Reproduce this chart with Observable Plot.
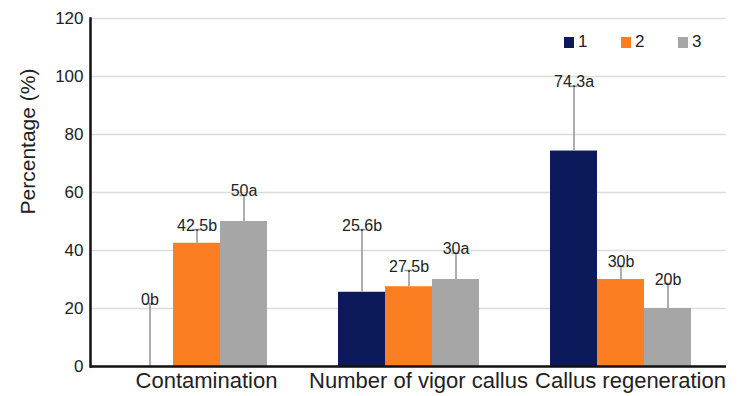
<!DOCTYPE html>
<html>
<head>
<meta charset="utf-8">
<script src="https://cdn.jsdelivr.net/npm/d3@7"></script>
<script src="https://cdn.jsdelivr.net/npm/@observablehq/plot@0.6"></script>
<style>
  body { margin: 0; background: #fff; font-family: "Liberation Sans", Arial, sans-serif; }
  #wrap { position: relative; width: 741px; height: 396px; }
  #legend { position: absolute; top: 32px; left: 564px; display: flex; font-size: 17px; color: #222; }
  #legend .item { display: flex; align-items: center; width: 57px; }
  #legend .sw { width: 10px; height: 11px; margin-right: 4px; }
</style>
</head>
<body>
<div id="wrap"><div id="legend"></div></div>
<script>
const categories = ["Contamination", "Number of vigor callus", "Callus regeneration"];
const treatments = ["1", "2", "3"];
const values = [[0, 42.5, 50], [25.6, 27.5, 30], [74.3, 30, 20]];
const errors = [[21.7, 4.7, 9], [21.6, 5.6, 9], [22.3, 4.5, 8.6]];
const labels = [["0b", "42.5b", "50a"], ["25.6b", "27.5b", "30a"], ["74.3a", "30b", "20b"]];
const colors = ["#0c1a5c", "#fb7f21", "#a6a6a6"];
const yTicks = [0, 20, 40, 60, 80, 100, 120];

const data = [];
categories.forEach((c, i) => treatments.forEach((t, j) => {
  data.push({cat: c, t, v: values[i][j], e: errors[i][j], lab: labels[i][j]});
}));
const errTop = d => d.v + d.e;

const chart = Plot.plot({
  width: 741,
  height: 396,
  marginLeft: 90,
  marginRight: 15,
  marginTop: 18,
  marginBottom: 30,
  style: {fontFamily: '"Liberation Sans", Arial, sans-serif', color: "#222", background: "#fff"},
  fx: {domain: categories, padding: 0, label: null},
  x: {domain: treatments, paddingInner: 0, paddingOuter: 0.755, axis: null},
  y: {domain: [0, 120], ticks: yTicks, label: null},
  color: {domain: treatments, range: colors},
  marks: [
    Plot.gridY(yTicks, {stroke: "#dcdcdc", strokeOpacity: 1, strokeWidth: 1.5}),
    Plot.axisY(yTicks, {tickSize: 0, tickPadding: 7, fontSize: 17, label: null}),
    Plot.axisFx({anchor: "bottom", tickSize: 0, tickPadding: 6, fontSize: 22, dx: 10, label: null}),
    Plot.barY(data, {fx: "cat", x: "t", y: "v", fill: "t"}),
    Plot.ruleX(data, {fx: "cat", x: "t", y1: "v", y2: errTop, stroke: "#9a9a9a", strokeWidth: 1.6}),
    Plot.tickY(data, {fx: "cat", x: "t", y: errTop, stroke: "#9a9a9a", strokeWidth: 1.6, insetLeft: 19.5, insetRight: 19.5}),
    Plot.text(data, {fx: "cat", x: "t", y: errTop, text: "lab", lineAnchor: "bottom", dy: 1, fontSize: 16, fill: "#222"}),
    Plot.ruleY([0], {stroke: "#111", strokeWidth: 2.5}),
    Plot.frame({anchor: "left", stroke: "#111", strokeWidth: 2.5, facet: "super"}),
    Plot.text(["Percentage (%)"], {frameAnchor: "left", textAnchor: "middle", rotate: -90, dx: -62, dy: -51, fontSize: 21, fill: "#222", facet: "super"})
  ]
});
document.getElementById("wrap").prepend(chart);

const legend = d3.select("#legend");
treatments.forEach((t, j) => {
  const it = legend.append("div").attr("class", "item");
  it.append("div").attr("class", "sw").style("background", colors[j]);
  it.append("span").text(t);
});
</script>
</body>
</html>
